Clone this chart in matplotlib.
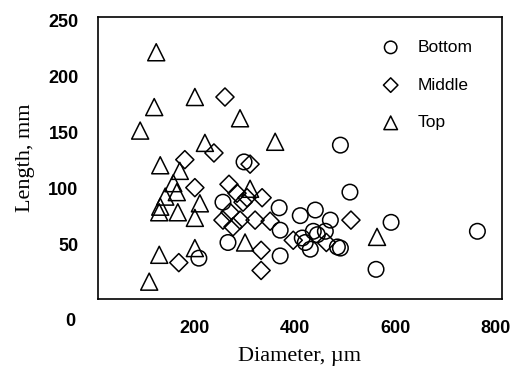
import numpy as np
import matplotlib
matplotlib.use("Agg")
import matplotlib.pyplot as plt

# diameter (um), length (mm)
bottom_d = [491, 299, 257, 267, 209, 369, 371, 371, 411, 441, 471, 437, 461,
            415, 431, 485, 510, 592, 764, 562, 491, 445, 421]
bottom_l = [139, 124, 88, 52, 38, 83, 63, 40, 76, 81, 72, 62, 62,
            56, 46, 48, 97, 70, 62, 28, 47, 59, 52]

middle_d = [261, 239, 181, 311, 201, 269, 285, 305, 335, 297, 271, 257, 291,
            321, 277, 351, 333, 333, 169, 397, 463, 512]
middle_l = [182, 132, 126, 122, 101, 104, 96, 92, 92, 88, 79, 72, 72,
            72, 66, 71, 45, 27, 34, 54, 52, 72]

top_d = [124, 120, 92, 201, 291, 221, 361, 132, 171, 158, 165, 142, 132,
         130, 167, 211, 201, 311, 301, 130, 201, 110, 564]
top_l = [222, 173, 152, 182, 163, 141, 142, 121, 116, 105, 97, 93, 84,
         79, 79, 87, 74, 100, 52, 41, 47, 17, 57]

x_ticks = [200, 400, 600, 800]
y_ticks = [50, 100, 150, 200, 250]

fig = plt.figure(figsize=(5.14, 3.72), dpi=100)
ax = fig.add_axes([98 / 514, 1 - 299 / 372, 404 / 514, 282 / 372])

style = dict(facecolor="none", edgecolors="black", linewidths=1.1, s=125)
ax.scatter(bottom_d, bottom_l, marker="o", label="Bottom", **style)
ax.scatter(middle_d, middle_l, marker="D", label="Middle", **{**style, "s": 85})
ax.scatter(top_d, top_l, marker="^", label="Top", **{**style, "s": 150})

ax.set_xlim(8, 813)
ax.set_ylim(1.5, 253.5)
ax.set_xticks(x_ticks)
ax.set_yticks(y_ticks)
ax.tick_params(length=0, labelsize=13)
ax.tick_params(axis="x", pad=15)
ax.tick_params(axis="y", pad=14)
for lab in ax.get_xticklabels() + ax.get_yticklabels():
    lab.set_fontweight("bold")
    lab.set_fontfamily("Liberation Sans")
fig.text(70 / 514, 1 - 322 / 372, "0", ha="center", va="center",
         fontsize=13, fontweight="bold", family="Liberation Sans")

for sp in ax.spines.values():
    sp.set_linewidth(1.2)

ax.set_xlabel("Diameter, \u00b5m", family="Liberation Serif", fontsize=16)
ax.set_ylabel("Length, mm", family="Liberation Serif", fontsize=16)
ax.xaxis.set_label_coords(0.5, -0.17)
ax.yaxis.set_label_coords(-0.155, 0.5)

leg = ax.legend(loc="upper left", bbox_to_anchor=(0.66, 0.95), frameon=False,
                markerscale=0.8, handletextpad=0.55, labelspacing=1.3,
                borderpad=0, prop={"family": "Liberation Sans", "size": 12.5})

fig.savefig("out.png", dpi=100)
